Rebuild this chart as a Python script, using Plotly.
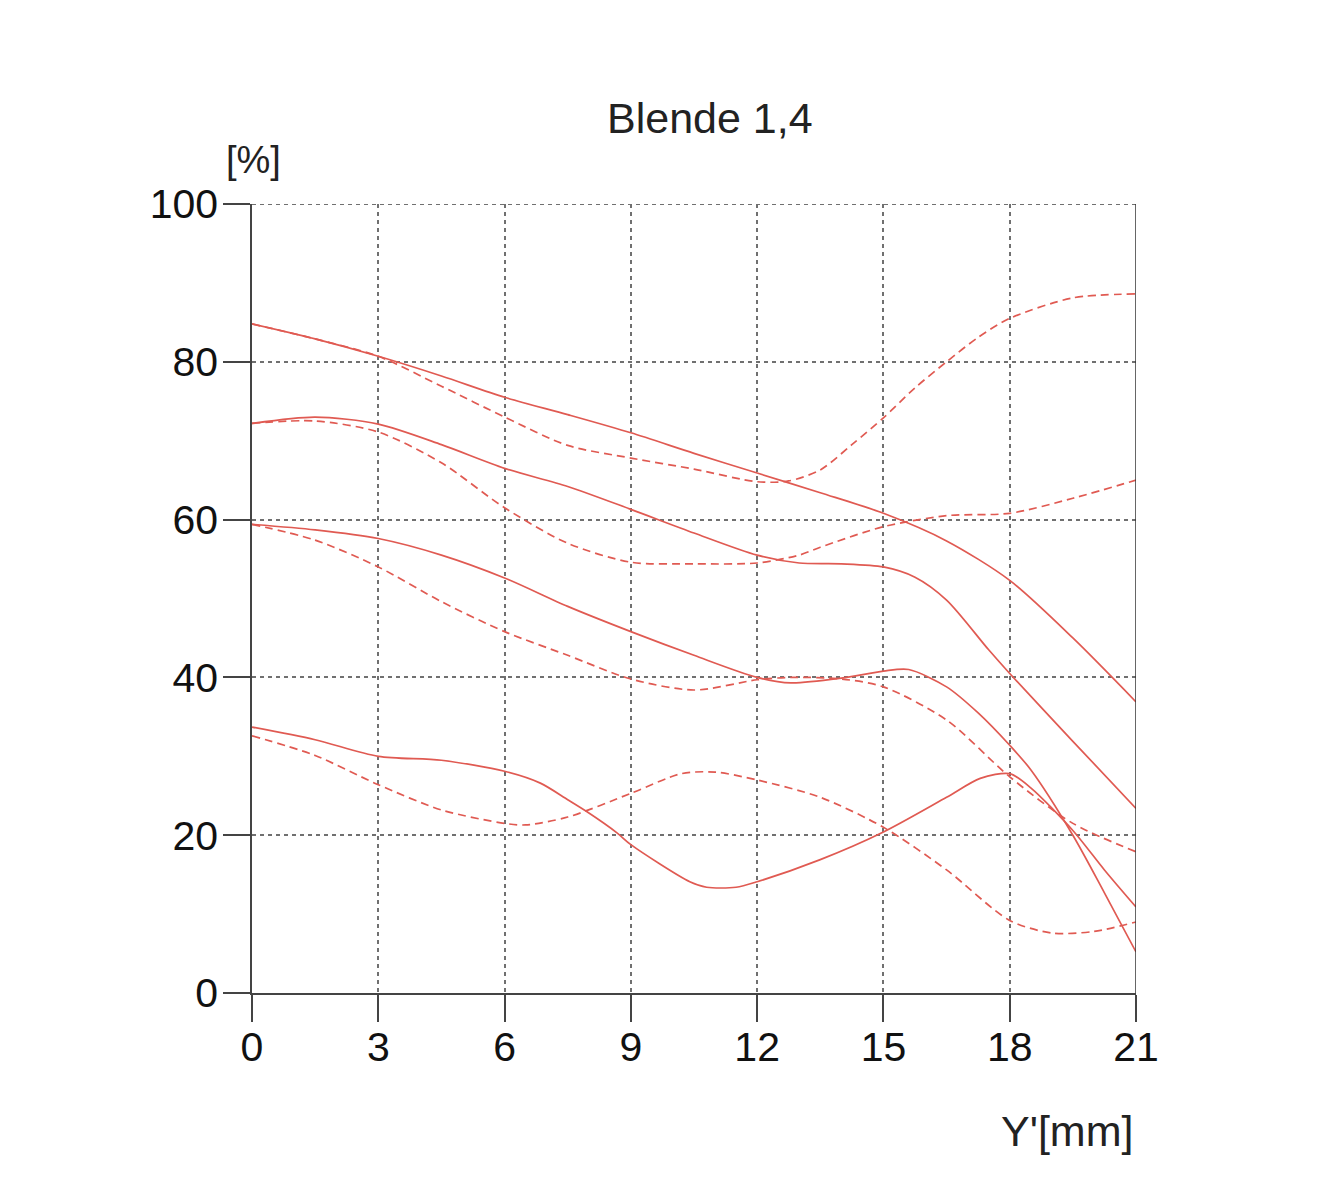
import plotly.graph_objects as go

# ---- data (Y' in mm, MTF in %) ----
x_s1 = [0, 1.5, 3, 4.5, 6, 7.5, 9, 10.5, 12, 13.5, 15, 16.5, 18, 19.5, 21]
y_s1 = [84.8, 82.9, 80.7, 78.2, 75.5, 73.3, 71.0, 68.4, 65.9, 63.4, 60.8, 57.3, 52.3, 45.0, 36.9]

x_d1 = [0, 1.5, 3, 4.5, 6, 7.5, 9, 10.5, 12, 12.75, 13.5, 14.25, 15, 15.75, 16.5, 17.25, 18, 19.5, 21]
y_d1 = [84.8, 82.9, 80.7, 76.9, 73.0, 69.4, 67.8, 66.4, 64.8, 64.9, 66.3, 69.5, 72.9, 76.7, 80.0, 83.1, 85.5, 88.1, 88.6]

x_s2 = [0, 1.5, 3, 4.5, 6, 7.5, 9, 10.5, 12, 13, 14, 15, 15.75, 16.5, 17.5, 18, 19.5, 21]
y_s2 = [72.2, 73.0, 72.1, 69.5, 66.5, 64.2, 61.3, 58.3, 55.5, 54.5, 54.4, 54.0, 52.7, 49.8, 43.5, 40.5, 31.9, 23.4]

x_d2 = [0, 1.5, 3, 4.5, 6, 7.5, 9, 10.5, 12, 13, 13.5, 15, 16.5, 18, 19.5, 21]
y_d2 = [72.2, 72.5, 71.1, 67.2, 61.5, 57.0, 54.6, 54.4, 54.5, 55.5, 56.5, 59.1, 60.5, 60.8, 62.7, 65.0]

x_s3 = [0, 1.5, 3, 4.5, 6, 7.5, 9, 10.5, 12, 12.8, 14, 15, 15.6, 16.5, 17.25, 18, 18.5, 19.5, 20.25, 21]
y_s3 = [59.4, 58.7, 57.6, 55.5, 52.6, 49.0, 45.8, 42.8, 40.0, 39.3, 39.9, 40.8, 41.0, 38.8, 35.5, 31.4, 28.3, 20.0, 12.7, 5.2]

x_d3 = [0, 1.5, 3, 4.5, 6, 7.5, 9, 10.5, 12, 12.8, 14, 15, 16.5, 18, 19.5, 21]
y_d3 = [59.4, 57.4, 54.0, 49.6, 45.8, 42.8, 39.8, 38.4, 39.7, 40.0, 39.8, 38.8, 34.6, 27.4, 21.5, 17.9]

x_s4 = [0, 1.5, 3, 4.5, 6, 6.85, 7.5, 7.95, 8.67, 9, 10.4, 10.8, 11.5, 12, 13.5, 15, 16.5, 17.3, 18, 18.5, 19.5, 20.25, 21]
y_s4 = [33.7, 32.1, 30.0, 29.5, 28.1, 26.6, 24.5, 23.0, 20.3, 18.8, 14.1, 13.4, 13.4, 14.1, 16.9, 20.4, 24.8, 27.2, 27.8, 26.0, 20.6, 15.6, 10.9]

x_d4 = [0, 1.5, 3, 4.5, 6, 6.5, 7.5, 9, 10.2, 11, 12, 13.5, 15, 16.5, 18, 19, 20, 21]
y_d4 = [32.6, 30.1, 26.4, 23.2, 21.5, 21.3, 22.3, 25.3, 27.8, 28.0, 27.0, 24.8, 21.0, 15.6, 9.2, 7.6, 7.8, 9.0]

x_ticks = [0, 3, 6, 9, 12, 15, 18, 21]
y_ticks = [0, 20, 40, 60, 80, 100]

title_text = "Blende 1,4"
y_label = "[%]"
x_label = "Y'[mm]"

RED = "#e05a52"
FONT = "Liberation Sans, Arial, sans-serif"

series = [
    (x_s1, y_s1, "solid"), (x_d1, y_d1, "8px,5px"),
    (x_s2, y_s2, "solid"), (x_d2, y_d2, "8px,5px"),
    (x_s3, y_s3, "solid"), (x_d3, y_d3, "8px,5px"),
    (x_s4, y_s4, "solid"), (x_d4, y_d4, "8px,5px"),
]

fig = go.Figure()
for xs, ys, dash in series:
    fig.add_trace(go.Scatter(
        x=xs, y=ys, mode="lines",
        line=dict(color=RED, width=1.7, dash=dash, shape="spline", smoothing=0.8),
        showlegend=False, hoverinfo="skip",
    ))

grid = dict(showgrid=True, gridcolor="#707070", gridwidth=2, griddash="4px,4px")

fig.update_xaxes(
    range=[0, 21], tickvals=x_ticks, ticktext=[str(v) for v in x_ticks],
    ticks="outside", ticklen=27, tickwidth=1.5, tickcolor="#444",
    showline=True, linecolor="#444", linewidth=1.5,
    zeroline=False, tickfont=dict(family=FONT, size=41, color="#111"),
    ticklabelstandoff=-10, **grid,
)
fig.update_yaxes(
    range=[0, 100], tickvals=y_ticks, ticktext=[str(v) for v in y_ticks],
    ticks="outside", ticklen=27, tickwidth=1.5, tickcolor="#444",
    showline=True, linecolor="#444", linewidth=1.5,
    zeroline=False, tickfont=dict(family=FONT, size=41, color="#111"),
    ticklabelstandoff=-3, **grid,
)

# right border (solid) and top border (dotted)
fig.add_shape(type="line", xref="x", yref="paper", x0=21, x1=21, y0=0, y1=1,
              line=dict(color="#333", width=1.5), layer="above")
fig.add_shape(type="line", xref="paper", yref="y", x0=0, x1=1, y0=100, y1=100,
              line=dict(color="#707070", width=2, dash="4px,4px"), layer="below")

fig.add_annotation(text=title_text, xref="paper", yref="paper", x=0.518, y=1.109,
                   xanchor="center", yanchor="middle", showarrow=False,
                   font=dict(family=FONT, size=43, color="#222"))
fig.add_annotation(text=y_label, xref="paper", yref="paper", x=0.002, y=1.056,
                   xanchor="center", yanchor="middle", showarrow=False,
                   font=dict(family=FONT, size=38, color="#222"))
fig.add_annotation(text=x_label, xref="paper", yref="paper", x=0.999, y=-0.175,
                   xanchor="right", yanchor="middle", showarrow=False,
                   font=dict(family=FONT, size=43, color="#222"))

fig.update_layout(
    width=1310, height=1185,
    margin=dict(l=244, r=182, t=196, b=200),
    paper_bgcolor="white", plot_bgcolor="white",
)

fig.write_html("out.html")
